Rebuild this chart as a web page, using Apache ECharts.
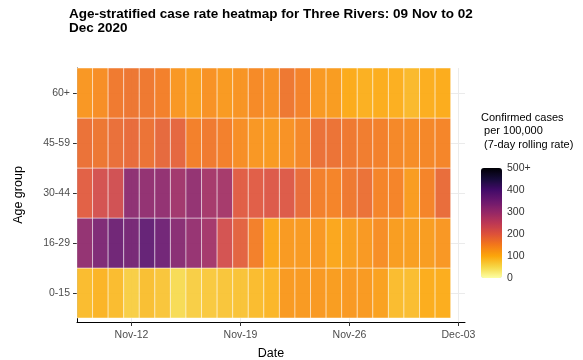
<!DOCTYPE html>
<html>
<head>
<meta charset="utf-8">
<script src="https://cdn.jsdelivr.net/npm/echarts@6/dist/echarts.min.js"></script>
<style>html,body{margin:0;padding:0;background:#fff;}#chart{width:583px;height:360px;}</style>
</head>
<body>
<div id="chart"></div>
<script>
// Dates (tiles), 09 Nov to 02 Dec 2020
const dates = ['Nov-09','Nov-10','Nov-11','Nov-12','Nov-13','Nov-14','Nov-15','Nov-16','Nov-17','Nov-18','Nov-19','Nov-20',
  'Nov-21','Nov-22','Nov-23','Nov-24','Nov-25','Nov-26','Nov-27','Nov-28','Nov-29','Nov-30','Dec-01','Dec-02'];
const ageGroups = ['0-15','16-29','30-44','45-59','60+'];
// x tick labels and their day positions (day index from Nov-09)
const xTickLabels = ['Nov-12','Nov-19','Nov-26','Dec-03'];
const xTickPos = [3, 10, 17, 24];
// legend ticks
const legendTicks = [0, 100, 200, 300, 400, 500];
const legendLabels = ['0','100','200','300','400','500+'];

// Case rate per 100,000 (7-day rolling), by age group
const rate0_15 = [82,90,82,62,78,72,48,62,67,72,74,82,88,120,120,122,117,122,120,112,82,80,98,98];
const rate16_29 = [308,335,355,345,370,353,322,305,287,220,190,152,103,120,120,123,105,115,122,135,117,115,117,125];
const rate30_44 = [195,220,225,315,310,310,290,308,285,285,197,198,205,204,178,153,147,162,172,147,147,118,147,178];
const rate45_59 = [172,165,175,180,170,183,187,152,160,153,135,125,120,130,142,173,170,162,157,152,142,137,143,146];
const rate60p = [125,135,160,165,162,152,125,115,130,120,128,140,132,163,150,122,118,100,95,98,96,85,97,99];

const rows = [rate0_15, rate16_29, rate30_44, rate45_59, rate60p];
const cells = [];
rows.forEach((r, yi) => r.forEach((v, xi) => cells.push([xi, yi, v])));

const infernoRev = ['#FCFFA4','#F6D746','#FCA50A','#F37819','#DD513A','#BC3754','#932667','#6A176E','#420A68','#160B39','#000004'];
const FONT = 'Liberation Sans, Arial, sans-serif';

function renderTile(params, api) {
  const x = api.value(0), y = api.value(1);
  const p0 = api.coord([x - 0.5, y + 0.5]);
  const p1 = api.coord([x + 0.5, y - 0.5]);
  return {
    type: 'rect',
    shape: {x: p0[0], y: p0[1], width: p1[0] - p0[0], height: p1[1] - p0[1]},
    style: {fill: api.visual('color'), opacity: 0.92, stroke: 'rgba(255,255,255,0.5)', lineWidth: 1}
  };
}

const chart = echarts.init(document.getElementById('chart'), null, {renderer: 'canvas'});
chart.setOption({
  animation: false,
  backgroundColor: '#fff',
  title: [{
    text: 'Age-stratified case rate heatmap for Three Rivers: 09 Nov to 02\nDec 2020',
    left: 64, top: 3,
    textStyle: {fontFamily: FONT, fontSize: 13.5, fontWeight: 'bold', color: '#000', lineHeight: 13.5}
  }, {
    text: 'Confirmed cases\n per 100,000\n (7-day rolling rate)',
    left: 476, top: 106,
    textStyle: {fontFamily: FONT, fontSize: 11, fontWeight: 'normal', color: '#000', lineHeight: 13.5}
  }],
  grid: [
    {left: 77, right: 118, top: 68, bottom: 38, outerBoundsMode: 'none', containLabel: false},
    {left: 481, width: 21, top: 168, height: 110, outerBoundsMode: 'none', containLabel: false}
  ],
  xAxis: [{
    gridIndex: 0, type: 'value', min: -0.5, max: 24.42,
    name: 'Date', nameLocation: 'middle', nameGap: 25,
    nameTextStyle: {fontFamily: FONT, fontSize: 12.5, color: '#000'},
    axisLine: {show: true, onZero: false, lineStyle: {color: '#000', width: 1}},
    axisTick: {show: true, length: 4, customValues: xTickPos, lineStyle: {color: '#333'}},
    axisLabel: {customValues: xTickPos, margin: 8, fontFamily: FONT, fontSize: 10.5, color: '#4D4D4D',
      formatter: v => xTickLabels[xTickPos.indexOf(v)]},
    splitLine: {show: true, lineStyle: {color: '#EBEBEB', width: 1}}
  }, {
    gridIndex: 1, type: 'value', show: false, min: 0, max: 1
  }],
  yAxis: [{
    gridIndex: 0, type: 'value', min: -0.58, max: 4.5,
    name: 'Age group', nameLocation: 'middle', nameGap: 52,
    nameTextStyle: {fontFamily: FONT, fontSize: 12.5, color: '#000'},
    axisLine: {show: true, onZero: false, lineStyle: {color: '#000', width: 1}},
    axisTick: {show: true, length: 4, customValues: [0,1,2,3,4], lineStyle: {color: '#333'}},
    axisLabel: {customValues: [0,1,2,3,4], margin: 7, fontFamily: FONT, fontSize: 10.5, color: '#4D4D4D',
      formatter: v => ageGroups[v]},
    splitLine: {show: true, lineStyle: {color: '#EBEBEB', width: 1}}
  }, {
    gridIndex: 1, type: 'value', min: 0, max: 500, interval: 100, position: 'right',
    axisLine: {show: false},
    axisTick: {show: true, inside: true, length: 4, lineStyle: {color: '#fff', width: 1}},
    axisLabel: {show: true, margin: 5, fontFamily: FONT, fontSize: 10.5, color: '#333',
      formatter: v => legendLabels[legendTicks.indexOf(v)]},
    splitLine: {show: false}
  }, {
    gridIndex: 1, type: 'value', min: 0, max: 500, interval: 100, position: 'left',
    axisLine: {show: false},
    axisTick: {show: true, inside: true, length: 4, lineStyle: {color: '#fff', width: 1}},
    axisLabel: {show: false},
    splitLine: {show: false}
  }],
  visualMap: {
    type: 'continuous', min: 0, max: 500, dimension: 2, seriesIndex: 0,
    calculable: false, realtime: false,
    left: 481, top: 168, itemWidth: 21, itemHeight: 110, padding: 0,
    text: null, showLabel: false,
    inRange: {color: infernoRev},
    z: 1
  },
  series: [{
    type: 'custom', xAxisIndex: 0, yAxisIndex: 0,
    renderItem: renderTile,
    encode: {x: 0, y: 1},
    data: cells,
    z: 3
  }]
});
</script>
</body>
</html>
